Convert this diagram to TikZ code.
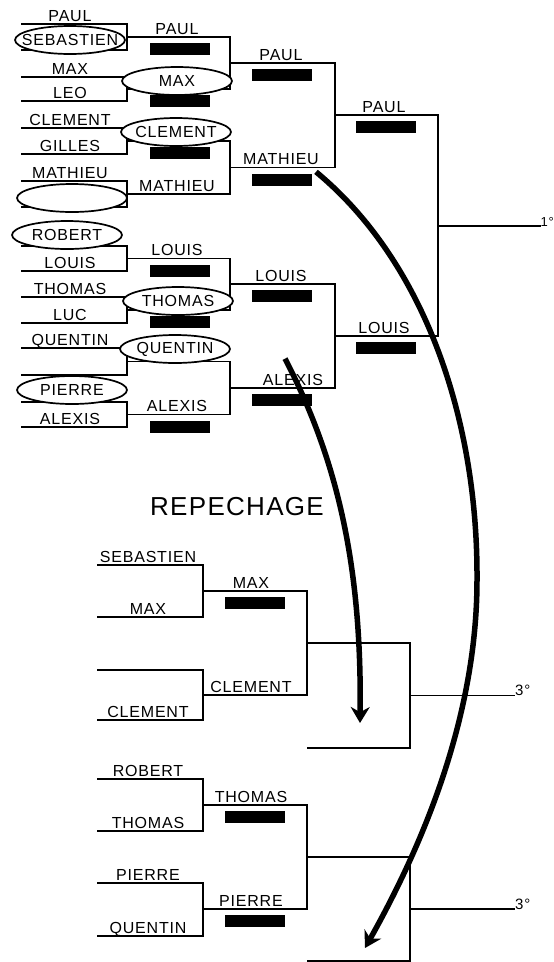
\documentclass[tikz,border=0pt]{standalone}
\usepackage{fontspec}
\setmainfont{Liberation Sans}[LetterSpace=5]
\usetikzlibrary{arrows.meta,shapes.geometric}

\begin{document}
\begin{tikzpicture}[x=1pt,y=-1pt,
  every node/.style={font=\fontsize{16}{18}\selectfont},
  tag/.style={inner sep=0pt,anchor=base},
  bar/.style={fill=black,inner sep=0pt,minimum width=60pt,minimum height=12pt},
  loser/.style={draw,ellipse,fill=white,line width=1.7pt,inner sep=0pt,minimum width=110pt,minimum height=28pt},
  link/.style={line width=1.2pt},
  jump/.style={line width=5.5pt,-{Stealth[length=16pt,width=19pt]}}]
\useasboundingbox (0,0) rectangle (554,962);

\foreach \t/\b in {24/50,77/101,128/154,181/207,246/271,297/323,348/375,402/427}
  \draw[link] (21,\t) -| (127,\b) -- (21,\b);
\foreach \t/\b in {37/89,141/194,258.5/310,361.5/414.5}
  \draw[link] (127,\t) -| (230,\b) -- (127,\b);
\foreach \t/\b in {63/167.5,284/388}
  \draw[link] (230,\t) -| (335,\b) -- (230,\b);
\draw[link] (335,115) -| (438,336) -- (335,336);

\foreach \t/\b in {565/617,670/720,779/831,883/936}
  \draw[link] (97,\t) -| (203,\b) -- (97,\b);
\foreach \t/\b in {591/695,805/909}
  \draw[link] (203,\t) -| (307,\b) -- (203,\b);
\foreach \t/\b in {643/748,857/961}
  \draw[link] (307,\t) -| (410,\b) -- (307,\b);
\foreach \y in {695.5,909}
  \draw[link] (410,\y) -- (515,\y);

\foreach \x/\y [count=\i] in {180/49,180/101,180/153,180/270.5,180/322,180/426.5,
    282/75,282/179.5,282/296,282/400,386/127,386/348,255/603,255/817,255/921}
  \node[bar] (bar\i) at (\x,\y) {};

\foreach \k/\x/\y/\n in {a2/70/40/SEBASTIEN,a8/72/198/{},a9/67/235/ROBERT,a15/72/390/PIERRE,
    b2/177/81/MAX,b3/176/132/CLEMENT,b6/178/301/THOMAS,b7/175/349/QUENTIN}
  \node[loser] (\k) at (\x,\y) {\makebox[0pt]{\n}};

\foreach \k/\x/\y/\n in {a1/70/24/PAUL,a3/70/77/MAX,a4/70/101/LEO,a5/70/128/CLEMENT,
    a6/70/154/GILLES,a7/70/181/MATHIEU,a10/70/271/LOUIS,a11/70/297/THOMAS,
    a12/70/323/LUC,a13/70/348/QUENTIN,a16/70/427/ALEXIS,
    b1/177/37/PAUL,b4/177/194/MATHIEU,b5/177/258.5/LOUIS,b8/177/414.5/ALEXIS,
    c1/281/63/PAUL,c2/281/167.5/MATHIEU,c3/281/284/LOUIS,c4/293/388/ALEXIS,
    d1/384/115/PAUL,d2/384/336/LOUIS,
    r1/148/565/SEBASTIEN,r2/148/617/MAX,r4/148/720/CLEMENT,r5/148/779/ROBERT,
    r6/148/831/THOMAS,r7/148/883/PIERRE,r8/148/936/QUENTIN,
    s1/251/591/MAX,s2/251/695/CLEMENT,s3/251/805/THOMAS,s4/251/909/PIERRE}
  \node[tag] (\k) at (\x,\y-3) {\n};

\node[tag,anchor=base east,font=\fontsize{13}{15}\selectfont] (first) at (554,226) {1°};
\draw[link] (438,226) -- (first.base west);
\node[tag,anchor=base west,font=\fontsize{15}{17}\selectfont] (thirdA) at (515,695.5) {3°};
\node[tag,anchor=base west,font=\fontsize{15}{17}\selectfont] (thirdB) at (515,909) {3°};
\node[tag,font=\fontsize{26}{30}\selectfont] (rep) at (237,515) {REPECHAGE};

\coordinate (slotA) at (360,723);
\coordinate (slotB) at (365,948);
\draw[jump] ([shift={(-3pt,-7pt)}]c2.south east) .. controls (425,262) and (478,420) .. (477,580)
  .. controls (477,720) and (420,850) .. (slotB);
\draw[jump] ([shift={(-8pt,15pt)}]c4.north) .. controls (335,455) and (362,560) .. (slotA);
\end{tikzpicture}
\end{document}
